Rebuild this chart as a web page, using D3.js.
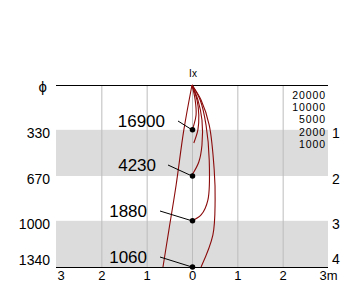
<!DOCTYPE html>
<html><head><meta charset="utf-8">
<script src="https://cdn.jsdelivr.net/npm/d3@7"></script>
<style>body{margin:0;background:#fff}svg{display:block;font-family:"Liberation Sans",Arial,sans-serif}</style>
</head><body><svg id="c" width="360" height="308"></svg>
<script>
// ---- data ----
const xTicks = [-3,-2,-1,0,1,2,3];
const depthTicks = [0,330,670,1000,1340];
const depthTickLabels = ["\u03D5","330","670","1000","1340"];
const layerLabels = ["1","2","3","4"];
const layerDepths = [330,670,1000,1340];
const bands = [[330,670],[1000,1340]];
const legendValues = ["20000","10000","5000","2000","1000"];
const dotValues = ["16900","4230","1880","1060"];
const dotDepths = [330,670,1000,1340];
// curves: [x (m), depth]
const curveLeft = [[0,0],[-0.18,331],[-0.35,736],[-0.51,1068],[-0.64,1340]];
const curve1 = [[0,0],[0.07,110],[0.09,221],[0.04,295],[0,331]];
const curve2 = [[0,0],[0.11,110],[0.15,221],[0.13,331],[0.04,427]];
const curve3 = [[0,0],[0.13,110],[0.22,258],[0.22,442],[0.15,567],[0,663]];
const curve4 = [[0,0],[0.18,110],[0.31,295],[0.38,552],[0.35,847],[0.2,957],[0,1001]];
const curve5 = [[0,0],[0.2,110],[0.38,295],[0.49,626],[0.51,847],[0.46,1105],[0.2,1340]];
const curves = [curveLeft,curve1,curve2,curve3,curve4,curve5];

// ---- layout ----
const svg = d3.select("#c");
const x = d3.scaleLinear([-3,3],[56,328]);
const y = d3.scaleLinear([0,1340],[85,267]);
const labelEnd = [165,156,147,147];
const leaderStart = [[178,121],[168,165],[160,211],[160,257]];

// bands
svg.selectAll("rect.band").data(bands).join("rect")
  .attr("x",x(-3)).attr("width",x(3)-x(-3))
  .attr("y",d=>y(d[0])).attr("height",d=>y(d[1])-y(d[0]))
  .attr("fill","#dcdcdc");

// grid
svg.selectAll("line.grid").data(xTicks.filter(d=>d>-3&&d<3)).join("line")
  .attr("x1",d=>x(d)+0.5).attr("x2",d=>x(d)+0.5)
  .attr("y1",y(0)).attr("y2",y(1340))
  .attr("stroke","#bdbdbd").attr("stroke-width",1);

// top/bottom lines
svg.append("line").attr("x1",x(-3)).attr("x2",x(3)).attr("y1",y(0)+0.5).attr("y2",y(0)+0.5).attr("stroke","#000");
svg.append("line").attr("x1",x(-3)).attr("x2",x(3)).attr("y1",y(1340)+0.5).attr("y2",y(1340)+0.5).attr("stroke","#000");

// bottom axis
const xa = svg.append("g").attr("transform",`translate(0,${y(1340)+2})`)
  .call(d3.axisBottom(x).tickValues(xTicks).tickSize(0).tickPadding(2)
    .tickFormat(d=> d===3 ? "3m" : String(Math.abs(d))));
xa.select(".domain").remove();
xa.selectAll("text").attr("font-size",13).attr("font-family","Liberation Sans, Arial").attr("fill","#000");
xa.selectAll("text").filter(d=>d===-3).attr("text-anchor","start").attr("dx",1);
xa.selectAll("text").filter(d=>d===3).attr("text-anchor","end").attr("dx",9);

// left axis
const ya = svg.append("g").attr("transform",`translate(50,0)`)
  .call(d3.axisLeft(y).tickValues(depthTicks).tickSize(0).tickPadding(0)
    .tickFormat((d,i)=>depthTickLabels[i]));
ya.select(".domain").remove();
ya.selectAll("text").attr("font-size",14).attr("font-family","Liberation Sans, Arial").attr("fill","#000")
  .attr("dy",(d,i)=> i===0 ? "0.4em" : (i===4 ? "-0.2em" : "0.55em"));
ya.selectAll("text").filter((d,i)=>i===0).attr("dx",-3).attr("font-size",15);

// right layer labels
svg.selectAll("text.layer").data(layerLabels).join("text")
  .attr("x",336).attr("y",(d,i)=>y(layerDepths[i]) + (i===3 ? -8 : 3))
  .attr("dy","0.35em").attr("text-anchor","middle")
  .attr("font-size",14).text(d=>d);

// legend
svg.selectAll("text.leg").data(legendValues).join("text")
  .attr("x",326).attr("y",(d,i)=>95+i*12.4).attr("dy","0.35em")
  .attr("text-anchor","end").attr("font-size",10.5).attr("letter-spacing",0.9).text(d=>d);

// Ix
svg.append("text").attr("x",x(0)+1).attr("y",y(0)-8).attr("text-anchor","middle")
  .attr("font-size",10).text("Ix");

// curves
const line = d3.line().x(d=>x(d[0])).y(d=>y(d[1])).curve(d3.curveCatmullRom);
svg.selectAll("path.curve").data(curves).join("path")
  .attr("d",line).attr("fill","none").attr("stroke","#8b0a0a").attr("stroke-width",1.1);

// leaders, dots, labels
svg.selectAll("line.leader").data(dotDepths).join("line")
  .attr("x1",(d,i)=>leaderStart[i][0]).attr("y1",(d,i)=>leaderStart[i][1])
  .attr("x2",x(0)).attr("y2",d=>y(d)).attr("stroke","#000");
svg.selectAll("path.dot").data(dotDepths).join("path")
  .attr("transform",d=>`translate(${x(0)+0.5},${y(d)})`)
  .attr("d",d3.symbol(d3.symbolCircle,24)).attr("fill","#000");
svg.selectAll("text.val").data(dotValues).join("text")
  .attr("x",(d,i)=>labelEnd[i]).attr("y",(d,i)=>leaderStart[i][1])
  .attr("dy","0.35em").attr("text-anchor","end").attr("font-size",17).text(d=>d);
</script></body></html>
